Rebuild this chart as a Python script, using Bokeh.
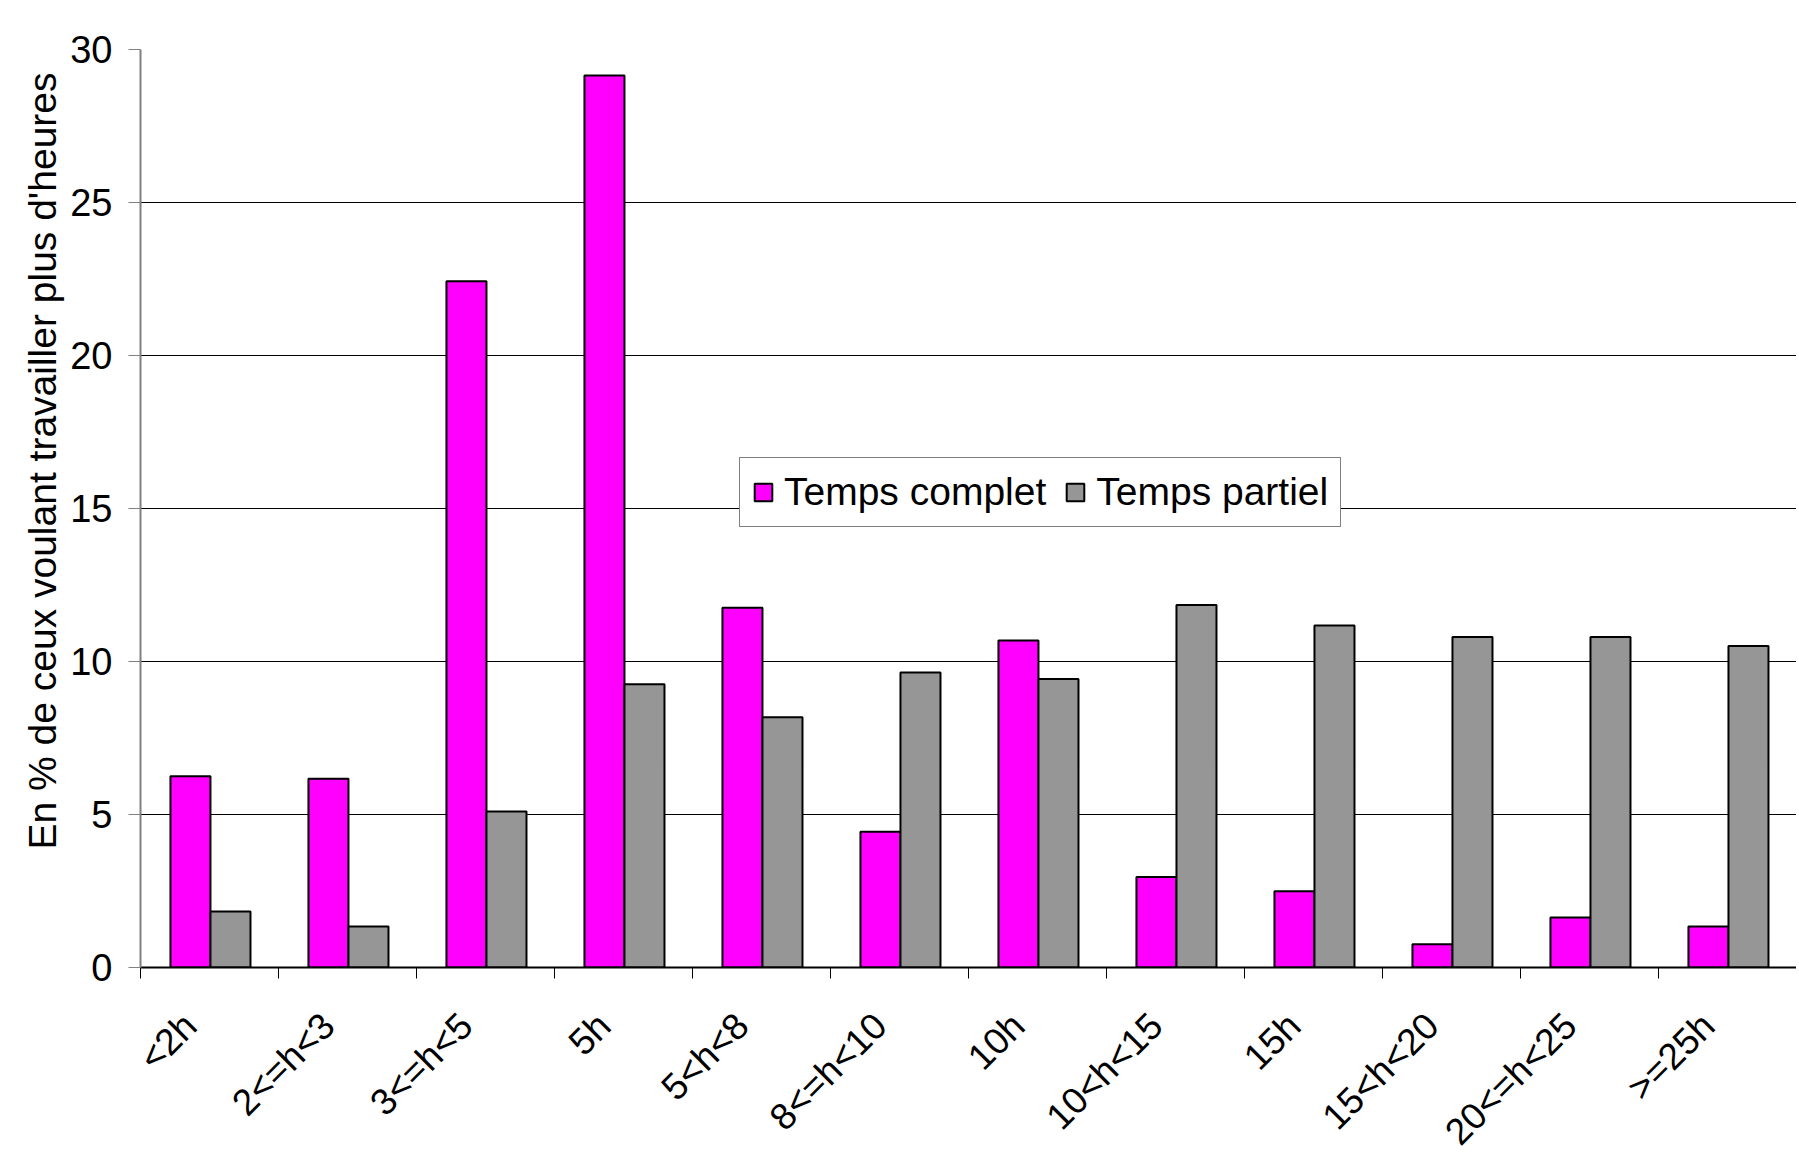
import math
from bokeh.plotting import figure
from bokeh.models import (ColumnDataSource, Range1d, FixedTicker, Legend,
                          LegendItem, Title)
from bokeh.embed import file_html
from bokeh.resources import INLINE

# ---- data ----
categories = ["<2h", "2<=h<3", "3<=h<5", "5h", "5<h<8", "8<=h<10", "10h",
              "10<h<15", "15h", "15<h<20", "20<=h<25", ">=25h"]
temps_complet = [6.25, 6.17, 22.43, 29.15, 11.76, 4.44, 10.69, 2.96, 2.49,
                 0.76, 1.63, 1.34]
temps_partiel = [1.83, 1.34, 5.10, 9.26, 8.18, 9.64, 9.43, 11.85, 11.18,
                 10.80, 10.80, 10.51]
series_names = ["Temps complet", "Temps partiel"]
y_ticks = [0, 5, 10, 15, 20, 25, 30]
y_title = "En % de ceux voulant travailler plus d'heures"

FONT = "Liberation Sans"
PINK = "#FF00FF"
GREY = "#969696"

n = len(categories)
idx = list(range(n))
bar_w = 0.29
src = ColumnDataSource(dict(
    xc=[i + 0.362 for i in idx],
    xp=[i + 0.652 for i in idx],
    complet=temps_complet,
    partiel=temps_partiel,
))

W, H = 1796, 1170
p = figure(width=W, height=H, output_backend="svg", toolbar_location=None,
           x_range=Range1d(0, n), y_range=Range1d(0, 30),
           min_border_left=140, min_border_right=0, min_border_top=49,
           min_border_bottom=H - 967)
p.background_fill_color = "white"
p.border_fill_color = "white"
p.outline_line_color = None

r1 = p.vbar(x="xc", top="complet", width=bar_w, source=src, fill_color=PINK,
            line_color="black", line_width=2)
r2 = p.vbar(x="xp", top="partiel", width=bar_w, source=src, fill_color=GREY,
            line_color="black", line_width=2)

# y axis
p.yaxis.ticker = FixedTicker(ticks=y_ticks)
p.yaxis.major_label_text_font = FONT
p.yaxis.major_label_text_font_size = "38px"
p.yaxis.major_label_text_color = "black"
p.yaxis.axis_line_color = "#808080"
p.yaxis.axis_line_width = 2
p.yaxis.major_tick_line_color = "#808080"
p.yaxis.major_tick_out = 12
p.yaxis.major_tick_in = 0
p.yaxis.minor_tick_line_color = None
p.yaxis.major_label_standoff = 16

# x axis: labels (rotated, right end near category centre), ticks at boundaries
label_pos = [i + 0.36 for i in idx]
bounds = list(range(n + 1))
p.xaxis.ticker = FixedTicker(ticks=label_pos, minor_ticks=bounds)
p.xaxis.major_label_overrides = {c: lab for c, lab in zip(label_pos, categories)}
p.xaxis.major_label_orientation = math.pi / 4
p.xaxis.major_label_text_font = FONT
p.xaxis.major_label_text_font_size = "37px"
p.xaxis.major_label_text_color = "black"
p.xaxis.major_tick_out = 0
p.xaxis.major_tick_in = 0
p.xaxis.minor_tick_out = 11
p.xaxis.minor_tick_in = 0
p.xaxis.minor_tick_line_color = "black"
p.xaxis.minor_tick_line_width = 1
p.xaxis.axis_line_color = "black"
p.xaxis.axis_line_width = 2
p.xaxis.major_label_standoff = 41

# grid
p.xgrid.visible = False
p.ygrid.ticker = FixedTicker(ticks=y_ticks)
p.ygrid.grid_line_color = "black"
p.ygrid.grid_line_width = 1

# y title (starts from the bottom like the original)
t = Title(text=y_title, align="left", offset=118, text_font=FONT,
          text_font_size="39px", text_font_style="normal", text_color="black",
          standoff=8)
p.add_layout(t, "left")

# legend
legend = Legend(items=[LegendItem(label=series_names[0], renderers=[r1]),
                       LegendItem(label=series_names[1], renderers=[r2])],
                orientation="horizontal", location=(599, 440))
legend.label_text_font = FONT
legend.label_text_font_size = "39px"
legend.label_text_color = "black"
legend.glyph_width = 22
legend.glyph_height = 22
legend.label_standoff = 10
legend.spacing = 18
legend.padding = 12
legend.margin = 0
legend.border_line_color = "black"
legend.border_line_width = 1.5
legend.background_fill_color = "white"
legend.background_fill_alpha = 1.0
p.add_layout(legend, "center")

open("out.html", "w").write(file_html(p, INLINE))
